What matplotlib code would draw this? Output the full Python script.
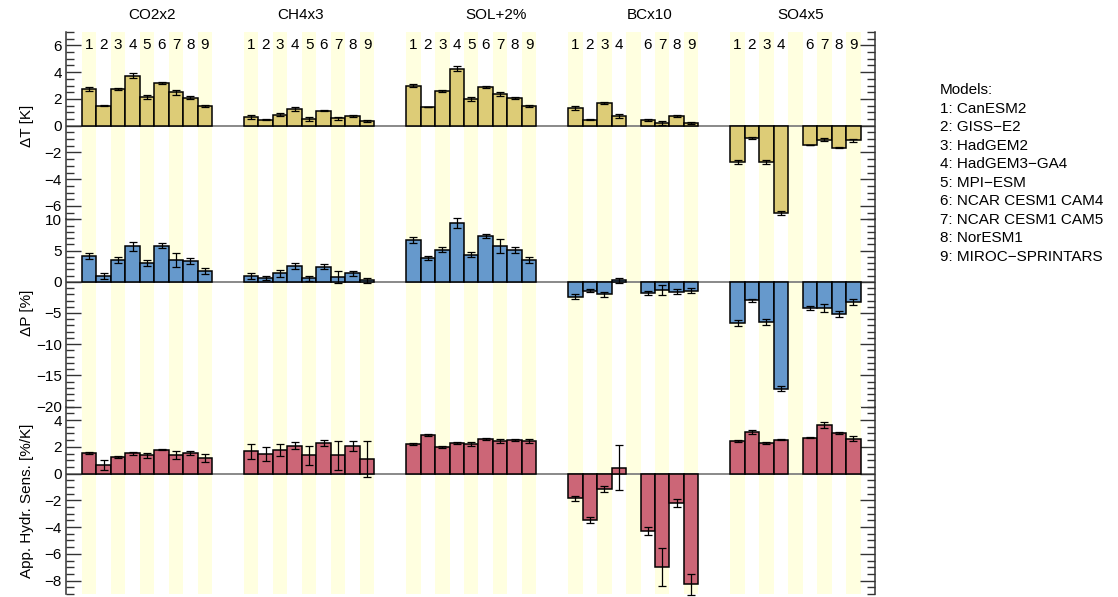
import numpy as np
import matplotlib
matplotlib.use("Agg")
from matplotlib import pyplot as plt
from matplotlib.ticker import MultipleLocator

plt.rcParams["font.family"] = ["Liberation Sans", "DejaVu Sans"]

nan = np.nan

EXPERIMENTS = ["CO2x2", "CH4x3", "SOL+2%", "BCx10", "SO4x5"]
MODELS = [
    "CanESM2", "GISS\u2212E2", "HadGEM2", "HadGEM3\u2212GA4", "MPI\u2212ESM",
    "NCAR CESM1 CAM4", "NCAR CESM1 CAM5", "NorESM1", "MIROC\u2212SPRINTARS",
]

# rows = experiments, columns = models 1..9 (nan where a model has no run)
DT_MEAN = [
    [2.74, 1.49, 2.74, 3.73, 2.14, 3.18, 2.49, 2.09, 1.47],
    [0.62, 0.45, 0.82, 1.24, 0.50, 1.12, 0.55, 0.70, 0.32],
    [2.99, 1.39, 2.59, 4.25, 1.97, 2.89, 2.34, 2.06, 1.44],
    [1.34, 0.45, 1.69, 0.72, nan, 0.42, 0.20, 0.72, 0.20],
    [-2.71, -0.92, -2.71, -6.52, nan, -1.44, -1.04, -1.64, -1.09],
]
DT_ERR = [
    [0.15, 0.05, 0.10, 0.20, 0.15, 0.08, 0.18, 0.10, 0.10],
    [0.15, 0.05, 0.12, 0.15, 0.13, 0.05, 0.13, 0.08, 0.07],
    [0.12, 0.03, 0.10, 0.20, 0.15, 0.05, 0.15, 0.08, 0.08],
    [0.15, 0.05, 0.10, 0.15, nan, 0.05, 0.15, 0.07, 0.07],
    [0.12, 0.05, 0.12, 0.12, nan, 0.03, 0.12, 0.05, 0.10],
]

DP_MEAN = [
    [4.14, 0.97, 3.44, 5.65, 2.96, 5.75, 3.49, 3.28, 1.67],
    [0.97, 0.65, 1.34, 2.53, 0.54, 2.42, 0.75, 1.34, 0.27],
    [6.67, 3.82, 5.16, 9.41, 4.30, 7.37, 5.70, 5.11, 3.44],
    [-2.42, -1.40, -1.99, 0.27, nan, -1.77, -1.24, -1.56, -1.40],
    [-6.61, -2.96, -6.40, -17.1, nan, -4.14, -4.19, -5.11, -3.23],
]
DP_ERR = [
    [0.5, 0.5, 0.45, 0.7, 0.5, 0.4, 1.1, 0.5, 0.5],
    [0.5, 0.3, 0.5, 0.5, 0.45, 0.4, 0.9, 0.4, 0.4],
    [0.5, 0.3, 0.45, 0.8, 0.4, 0.35, 1.1, 0.45, 0.45],
    [0.4, 0.3, 0.4, 0.4, nan, 0.3, 0.8, 0.45, 0.35],
    [0.5, 0.25, 0.45, 0.4, nan, 0.3, 0.7, 0.5, 0.45],
]

HS_MEAN = [
    [1.54, 0.65, 1.24, 1.51, 1.36, 1.79, 1.39, 1.56, 1.14],
    [1.66, 1.46, 1.74, 2.08, 1.36, 2.28, 1.36, 2.06, 1.09],
    [2.23, 2.88, 2.01, 2.26, 2.23, 2.58, 2.46, 2.51, 2.41],
    [-1.84, -3.47, -1.14, 0.45, nan, -4.32, -6.97, -2.23, -8.29],
    [2.43, 3.10, 2.31, 2.53, nan, 2.68, 3.62, 3.00, 2.61],
]
HS_ERR = [
    [0.10, 0.40, 0.10, 0.12, 0.20, 0.05, 0.30, 0.15, 0.30],
    [0.55, 0.50, 0.45, 0.25, 0.70, 0.20, 1.10, 0.35, 1.35],
    [0.08, 0.08, 0.08, 0.08, 0.15, 0.05, 0.15, 0.10, 0.15],
    [0.20, 0.25, 0.20, 1.65, nan, 0.30, 1.42, 0.30, 0.75],
    [0.10, 0.15, 0.08, 0.03, nan, 0.05, 0.25, 0.08, 0.20],
]

SAND = "#DDCC77"
BLUE = "#6699CC"
ROSE = "#CC6677"
STRIPE = "#FFFFE0"
SPINE = "#333333"
FS = 11

# figure is 1118 x 597 px; panels share one frame
W, H = 1118, 597
X0, X1 = 66, 875
Y_TOP, Y_BOT = 32, 594
GROUP_STEP = 11.2
XLIM = (-1.6, 4 * GROUP_STEP + 8.5 + 1.0)
TITLE_SHIFT = [0.34, -0.56, 1.72, 1.16, 0.33]

panels = [
    (DT_MEAN, DT_ERR, SAND, (-7, 7), 2, 0.5, "\u0394T [K]"),
    (DP_MEAN, DP_ERR, BLUE, (-20, 10), 5, 1, "\u0394P [%]"),
    (HS_MEAN, HS_ERR, ROSE, (-9, 5), 2, 0.5, "App. Hydr. Sens. [%/K]"),
]

fig = plt.figure(figsize=(W / 100, H / 100), dpi=100)
ph = (Y_BOT - Y_TOP) / 3

for k, (mean, err, color, ylim, major, minor, label) in enumerate(panels):
    top = Y_TOP + k * ph
    ax = fig.add_axes([X0 / W, 1 - (top + ph) / H, (X1 - X0) / W, ph / H])
    mean = np.array(mean, dtype=float)
    err = np.array(err, dtype=float)

    for g in range(len(EXPERIMENTS)):
        xs = g * GROUP_STEP + np.arange(9)
        for i in range(0, 9, 2):
            ax.axvspan(xs[i] - 0.5, xs[i] + 0.5, color=STRIPE, lw=0, zorder=0)
        ok = ~np.isnan(mean[g])
        ax.bar(xs[ok], mean[g][ok], width=1.0, color=color, edgecolor="black",
               linewidth=1.1, zorder=2)
        ax.errorbar(xs[ok], mean[g][ok], yerr=err[g][ok], fmt="none",
                    ecolor="black", elinewidth=0.9, capsize=3, capthick=0.9,
                    zorder=3, clip_on=False)
        if k == 0:
            for i in np.where(ok)[0]:
                ax.text(xs[i], 6, str(i + 1), ha="center", va="center",
                        fontsize=FS)

    ax.axhline(0, color="#808080", lw=1.3, zorder=1)
    ax.set_xlim(*XLIM)
    ax.set_ylim(*ylim)
    ax.yaxis.set_major_locator(MultipleLocator(major))
    ax.yaxis.set_minor_locator(MultipleLocator(minor))
    for side in ("top", "bottom"):
        ax.spines[side].set_visible(False)
    for side in ("left", "right"):
        ax.spines[side].set_color(SPINE)
        ax.spines[side].set_linewidth(1.1)
    ax.tick_params(axis="x", bottom=False, labelbottom=False)
    ax.tick_params(axis="y", which="both", direction="in", left=True,
                   right=True, labelleft=True, labelright=False,
                   color=SPINE, width=1.0, labelsize=FS, pad=3)
    ax.tick_params(axis="y", which="major", length=10.5)
    ax.tick_params(axis="y", which="minor", length=5.5)
    ax.patch.set_visible(False)

    fig.text(27 / W, 1 - (top + ph / 2) / H, label, rotation=90,
             ha="center", va="center", fontsize=FS)

# experiment names across the top
for g, name in enumerate(EXPERIMENTS):
    xd = g * GROUP_STEP + 4 + TITLE_SHIFT[g]
    xpx = X0 + (xd - XLIM[0]) / (XLIM[1] - XLIM[0]) * (X1 - X0)
    fig.text(xpx / W, 1 - 15 / H, name, ha="center", va="center", fontsize=FS)

# model key
fig.text(940 / W, 1 - 90 / H, "Models:", ha="left", va="center", fontsize=FS)
for i, m in enumerate(MODELS):
    fig.text(940 / W, 1 - (90 + 18.55 * (i + 1)) / H, f"{i + 1}: {m}",
             ha="left", va="center", fontsize=FS)

fig.savefig("out.png", dpi=100)
